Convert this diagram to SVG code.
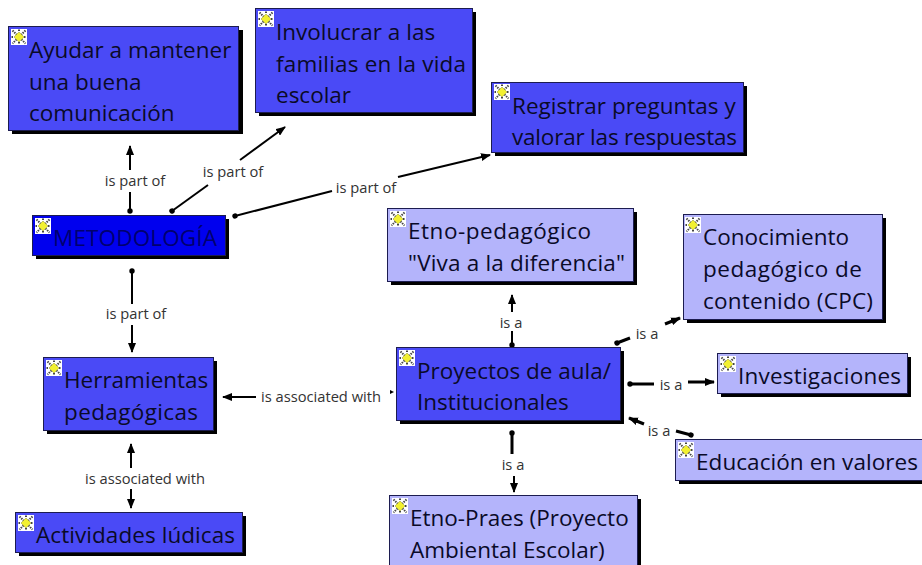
<svg xmlns="http://www.w3.org/2000/svg" width="922" height="565" viewBox="0 0 922 565">
<style>
.n{stroke:#1c1c50;stroke-width:1}
.s{fill:#000}
.a{fill:#4a4af6}
.b{fill:#b4b4fb}
.m{fill:#0000ee}
.t{font-family:"Open Sans","Noto Sans",sans-serif;font-size:22.5px;fill:#0a0a28}
.l{font-family:"Open Sans","Noto Sans",sans-serif;font-size:14.7px;fill:#333;text-anchor:middle}
.c{fill:none;stroke:#000;stroke-width:2}
</style>
<defs>
<marker id="arr" markerWidth="10" markerHeight="8" refX="9" refY="4" orient="auto" markerUnits="userSpaceOnUse"><path d="M0 0L10 4L0 8Z" fill="#000"/></marker>
<marker id="dot" markerWidth="6" markerHeight="6" refX="3" refY="3" orient="auto" markerUnits="userSpaceOnUse"><circle cx="3" cy="3" r="2.7" fill="#000"/></marker>
<symbol id="ic" viewBox="0 0 16 16" overflow="visible">
<rect width="16" height="16" fill="#fff"/>
<path d="M1.500 1.500L14.500 14.500M14.500 1.500L1.500 14.500M8 0.500V3M8 13V15.500M0.500 8H3M13 8H15.500" stroke="#444" stroke-width="2" stroke-dasharray="1.500 1"/>
<path d="M8 3L13 8L8 13L3 8Z" fill="#f2f030" stroke="#8a8a30" stroke-width="0.500"/>
</symbol>
</defs>
<rect width="922" height="565" fill="#fff"/>
<g id="connectors">
<path class="c" d="M130 211V192" marker-start="url(#dot)"/>
<path class="c" d="M130 170V146" marker-end="url(#arr)"/>
<path class="c" d="M172 211L208 185" marker-start="url(#dot)"/>
<path class="c" d="M240 160L285 127" marker-end="url(#arr)"/>
<path class="c" d="M235 216L332 191" marker-start="url(#dot)"/>
<path class="c" d="M398 177L490 155" marker-end="url(#arr)"/>
<path class="c" d="M132 271V304" marker-start="url(#dot)"/>
<path class="c" d="M132 325V352" marker-end="url(#arr)"/>
<path class="c" d="M256 397H223" marker-end="url(#arr)"/>
<path d="M390 390L394 392L390 394Z" fill="#000"/>
<path class="c" d="M131 468V444" marker-end="url(#arr)"/>
<path class="c" d="M131 489V508" marker-end="url(#arr)"/>
<path class="c" d="M512 345V331" marker-start="url(#dot)"/>
<path class="c" d="M512 312V295" marker-end="url(#arr)"/>
<path class="c" style="stroke-width:3" d="M617 343L630 338" marker-start="url(#dot)"/>
<path class="c" style="stroke-width:3" d="M665 324L680 318" marker-end="url(#arr)"/>
<path class="c" style="stroke-width:3" d="M630 384H654" marker-start="url(#dot)"/>
<path class="c" style="stroke-width:3" d="M688 382H714" marker-end="url(#arr)"/>
<path class="c" style="stroke-width:3" d="M644 424L629 418" marker-end="url(#arr)"/>
<path class="c" style="stroke-width:3" d="M676 431L691 435" marker-end="url(#dot)"/>
<path class="c" style="stroke-width:3" d="M512 433V454" marker-start="url(#dot)"/>
<path class="c" d="M514 476V492" marker-end="url(#arr)"/>
<text class="l" x="135" y="186">is part of</text>
<text class="l" x="233" y="177">is part of</text>
<text class="l" x="366" y="193">is part of</text>
<text class="l" x="136" y="319">is part of</text>
<text class="l" x="321" y="402">is associated with</text>
<text class="l" x="145" y="484">is associated with</text>
<text class="l" x="511" y="328">is a</text>
<text class="l" x="647" y="339">is a</text>
<text class="l" x="671" y="390">is a</text>
<text class="l" x="659" y="436">is a</text>
<text class="l" x="513" y="470">is a</text>
</g>
<g id="n-ayudar"><rect class="s" x="12" y="30" width="231" height="104"/><rect class="n a" x="8.500" y="26.500" width="230" height="104"/><use href="#ic" x="11" y="29" width="16" height="16"/><text class="t" x="29" y="58">Ayudar a mantener</text><text class="t" x="29" y="90">una buena</text><text class="t" x="29" y="121">comunicación</text></g>
<g id="n-involucrar"><rect class="s" x="259" y="12" width="217" height="104"/><rect class="n a" x="255.500" y="8.500" width="217" height="104"/><use href="#ic" x="258" y="11" width="16" height="16"/><text class="t" x="276" y="40">Involucrar a las</text><text class="t" x="276" y="72" textLength="190">familias en la vida</text><text class="t" x="276" y="103">escolar</text></g>
<g id="n-registrar"><rect class="s" x="495" y="86" width="252" height="70"/><rect class="n a" x="491.500" y="82.500" width="252" height="70"/><use href="#ic" x="494" y="84" width="16" height="16"/><text class="t" x="512" y="114">Registrar preguntas y</text><text class="t" x="512" y="145" textLength="225">valorar las respuestas</text></g>
<g id="n-metodologia"><rect class="s" x="36" y="219" width="193" height="40"/><rect class="n m" x="32.500" y="215.500" width="193" height="40"/><use href="#ic" x="35" y="218" width="16" height="16"/><text class="t" x="53" y="246" textLength="164" style="fill:#00006e">METODOLOGÍA</text></g>
<g id="n-herramientas"><rect class="s" x="47" y="361" width="170" height="73"/><rect class="n a" x="43.500" y="357.500" width="170" height="73"/><use href="#ic" x="46" y="360" width="16" height="16"/><text class="t" x="64" y="388">Herramientas</text><text class="t" x="64" y="420" textLength="134">pedagógicas</text></g>
<g id="n-actividades"><rect class="s" x="19" y="516" width="227" height="40"/><rect class="n a" x="15.500" y="512.500" width="227" height="40"/><use href="#ic" x="18" y="515" width="16" height="16"/><text class="t" x="36" y="543" textLength="199">Actividades lúdicas</text></g>
<g id="n-proyectos"><rect class="s" x="400" y="351" width="224" height="73"/><rect class="n a" x="396.500" y="347.500" width="224" height="73"/><use href="#ic" x="399" y="350" width="16" height="16"/><text class="t" x="417" y="379">Proyectos de aula/</text><text class="t" x="417" y="410">Institucionales</text></g>
<g id="n-etnoped"><rect class="s" x="391" y="212" width="246" height="73"/><rect class="n b" x="387.500" y="208.500" width="246" height="73"/><use href="#ic" x="390" y="211" width="16" height="16"/><text class="t" x="408" y="239" textLength="183">Etno-pedagógico</text><text class="t" x="408" y="271" textLength="217">"Viva a la diferencia"</text></g>
<g id="n-conocimiento"><rect class="s" x="687" y="218" width="199" height="105"/><rect class="n b" x="683.500" y="214.500" width="199" height="105"/><use href="#ic" x="685" y="217" width="16" height="16"/><text class="t" x="703" y="245">Conocimiento</text><text class="t" x="703" y="277" textLength="159">pedagógico de</text><text class="t" x="703" y="309" textLength="170">contenido (CPC)</text></g>
<g id="n-investigaciones"><rect class="s" x="721" y="357" width="190" height="40"/><rect class="n b" x="717.500" y="353.500" width="190" height="40"/><use href="#ic" x="720" y="356" width="16" height="16"/><text class="t" x="738" y="384" textLength="163">Investigaciones</text></g>
<g id="n-educacion"><rect class="s" x="679" y="443" width="243" height="41"/><rect class="n b" x="675.500" y="439.500" width="247" height="41"/><use href="#ic" x="678" y="442" width="16" height="16"/><text class="t" x="696" y="470" textLength="222">Educación en valores</text></g>
<g id="n-etnopraes"><rect class="s" x="393" y="499" width="248" height="66"/><rect class="n b" x="389.500" y="495.500" width="248" height="72"/><use href="#ic" x="392" y="498" width="16" height="16"/><text class="t" x="410" y="526">Etno-Praes (Proyecto</text><text class="t" x="410" y="558">Ambiental Escolar)</text></g>
</svg>
